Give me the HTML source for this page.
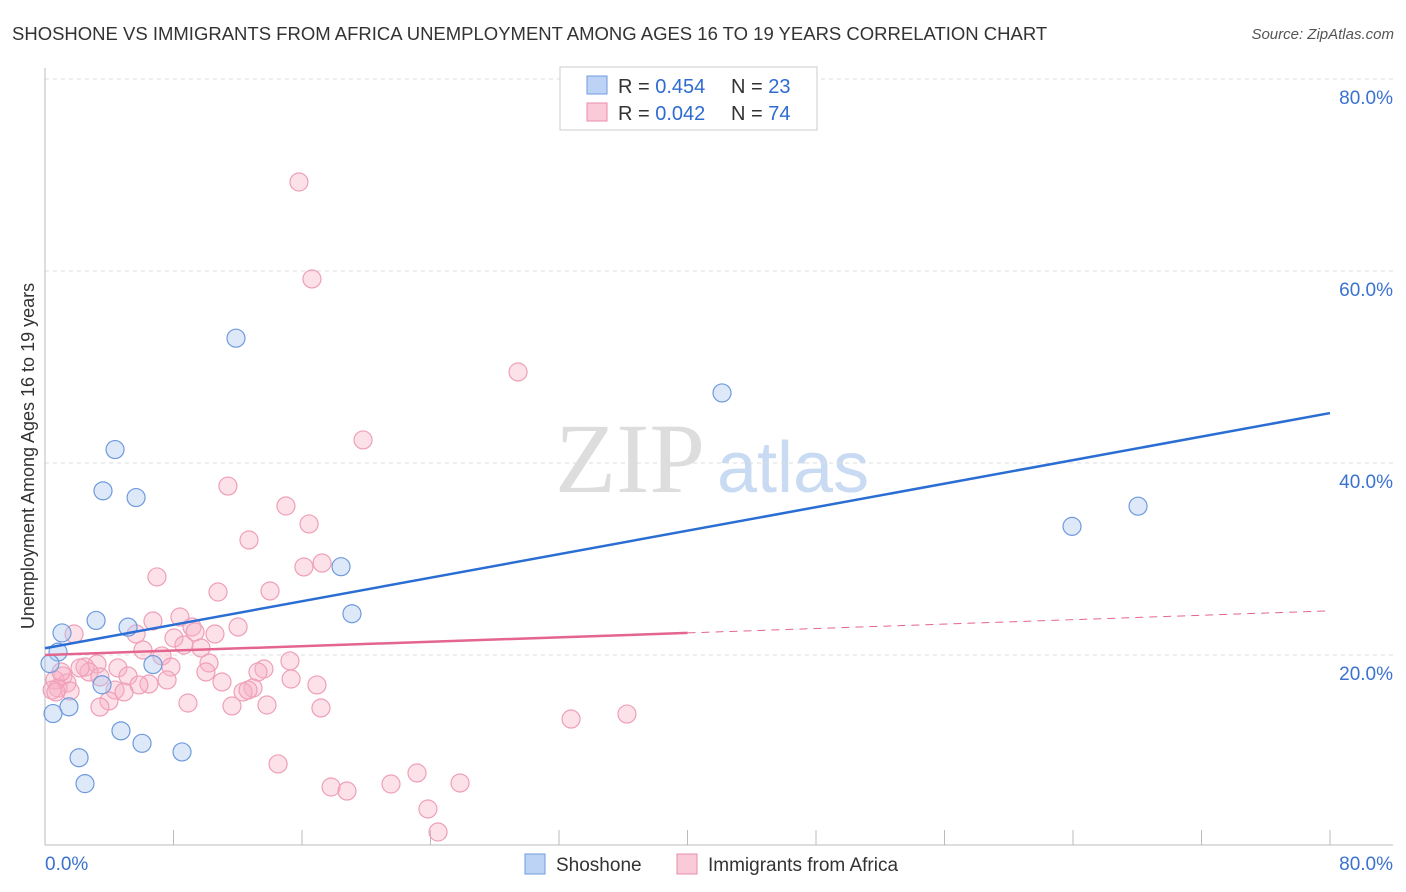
<!DOCTYPE html>
<html><head><meta charset="utf-8"><style>
body{margin:0;background:#fff;font-family:"Liberation Sans",sans-serif}
svg{display:block}
</style></head><body>
<svg id="chart" width="1406" height="892">
<text x="12" y="40" font-size="18.5" fill="#333">SHOSHONE VS IMMIGRANTS FROM AFRICA UNEMPLOYMENT AMONG AGES 16 TO 19 YEARS CORRELATION CHART</text>
<text x="1394" y="39" font-size="15" fill="#555" font-style="italic" text-anchor="end">Source: ZipAtlas.com</text>
<text x="555" y="492" font-size="100" fill="#ddd" font-family="Liberation Serif,serif">ZIP</text>
<text x="717" y="492" font-size="72" fill="#c9daf3">atlas</text>
<text transform="translate(34,456) rotate(-90)" font-size="18" fill="#333" text-anchor="middle">Unemployment Among Ages 16 to 19 years</text>
<g id="grid"></g><g id="marks"></g>
<g>
<rect x="560" y="67" width="257" height="63" fill="#fff" stroke="#ccc"/>
<rect x="587" y="76" width="20" height="18" fill="#bcd3f5" stroke="#6e9be0"/>
<rect x="587" y="103" width="20" height="18" fill="#fbcad8" stroke="#ea8eab"/>
<text x="618" y="93" font-size="20" fill="#333">R = <tspan fill="#2f6bd1">0.454</tspan></text>
<text x="731" y="93" font-size="20" fill="#333">N = <tspan fill="#2f6bd1">23</tspan></text>
<text x="618" y="120" font-size="20" fill="#333">R = <tspan fill="#2f6bd1">0.042</tspan></text>
<text x="731" y="120" font-size="20" fill="#333">N = <tspan fill="#2f6bd1">74</tspan></text>
</g>
<g>
<rect x="525" y="854" width="20" height="20" fill="#bcd3f5" stroke="#6e9be0"/>
<text x="556" y="871" font-size="19" fill="#333">Shoshone</text>
<rect x="677" y="854" width="20" height="20" fill="#fbcad8" stroke="#ea8eab"/>
<text x="708" y="871" font-size="19" fill="#333">Immigrants from Africa</text>
</g>
</svg>
<script>
const yTicks=[20,40,60,80];
const xTickLabels=["0.0%","80.0%"];
const blueX=[11.89,42.15,4.36,3.61,5.67,18.43,63.94,68.05,3.18,5.17,19.11,1.06,0.81,0.31,6.72,3.55,1.49,0.50,4.73,6.04,8.53,2.12,2.49];
const blueY=[53.0,47.3,41.4,37.1,36.4,29.2,33.4,35.5,23.6,22.9,24.3,22.3,20.3,19.1,19.0,16.9,14.6,13.9,12.1,10.8,9.9,9.3,6.6];
const pinkPx=[[299,182],[312,279],[518,372],[363,440],[228,486],[286,506],[309,524],[249,540],[157,577],[304,567],[322,563],[218,592],[270,591],[153,621],[180,617],[238,627],[192,627],[74,634],[136,634],[195,632],[215,634],[174,638],[184,645],[201,648],[143,650],[162,656],[290,661],[97,664],[85,667],[209,663],[118,668],[171,667],[264,669],[258,672],[89,672],[206,672],[128,676],[167,680],[222,682],[100,677],[63,676],[55,680],[67,683],[58,688],[52,690],[317,685],[291,679],[149,684],[115,690],[253,688],[139,685],[124,692],[243,692],[248,690],[70,691],[109,701],[100,707],[188,703],[232,706],[267,705],[321,708],[571,719],[627,714],[278,764],[331,787],[347,791],[391,784],[417,773],[460,783],[428,809],[438,832],[56,692],[61,672],[80,668]];
const pinkX=pinkPx.map(p=>+((p[0]-45)*80/1285).toFixed(2));
const pinkY=pinkPx.map(p=>+((847-p[1])/9.6).toFixed(2));
const blueLine=[20.7,45.2];
const pinkLine=[20.0,24.6];
const pinkSolidEnd=40;
const X=v=>45+v*1285/80, Y=v=>847-v*9.6;
const NS="http://www.w3.org/2000/svg";
function mk(t,a,p){const e=document.createElementNS(NS,t);for(const k in a)e.setAttribute(k,a[k]);p.appendChild(e);return e;}
const g=document.getElementById('grid'), m=document.getElementById('marks');
for(const t of yTicks){
 const l=mk('line',{x1:45,x2:1393,y1:Y(t),y2:Y(t),stroke:'#ddd','stroke-dasharray':'4,4'},g);
 
 
 const tx=mk('text',{x:1393,y:Y(t)+25,'font-size':19,fill:'#3b72cf','text-anchor':'end'},g);tx.textContent=t.toFixed(1)+'%';
 
 
}
mk('line',{x1:45,x2:45,y1:68,y2:845,stroke:'#bbb'},g);
mk('line',{x1:45,x2:1393,y1:845,y2:845,stroke:'#bbb'},g);
for(let i=0;i<=10;i++){const l=mk('line',{x1:X(i*8),x2:X(i*8),y1:830,y2:845,stroke:'#bbb'},g);
 
 }
const a=mk('text',{x:45,y:870,'font-size':19,fill:'#3b72cf'},g);a.textContent=xTickLabels[0];


const b=mk('text',{x:1393,y:870,'font-size':19,fill:'#3b72cf','text-anchor':'end'},g);b.textContent=xTickLabels[1];


pinkX.forEach((x,i)=>{const c=mk('circle',{cx:X(x),cy:Y(pinkY[i]),r:9,fill:'rgba(248,176,198,0.38)',stroke:'#ef9fb7','stroke-width':1.2},m);
 
 });
blueX.forEach((x,i)=>{const c=mk('circle',{cx:X(x),cy:Y(blueY[i]),r:9,fill:'rgba(170,200,240,0.4)',stroke:'#6f9ade','stroke-width':1.2},m);
 
 });
const pe=pinkLine[0]+(pinkLine[1]-pinkLine[0])*pinkSolidEnd/80;
const p1=mk('line',{x1:X(0),y1:Y(pinkLine[0]),x2:X(pinkSolidEnd),y2:Y(pe),stroke:'#e4658f','stroke-width':2.5},m);


const p2=mk('line',{x1:X(pinkSolidEnd),y1:Y(pe),x2:X(80),y2:Y(pinkLine[1]),stroke:'#e4658f','stroke-width':1,'stroke-dasharray':'8,6'},m);


const bl=mk('line',{x1:X(0),y1:Y(blueLine[0]),x2:X(80),y2:Y(blueLine[1]),stroke:'#2a6dd3','stroke-width':2.5},m);


</script>
</body></html>
